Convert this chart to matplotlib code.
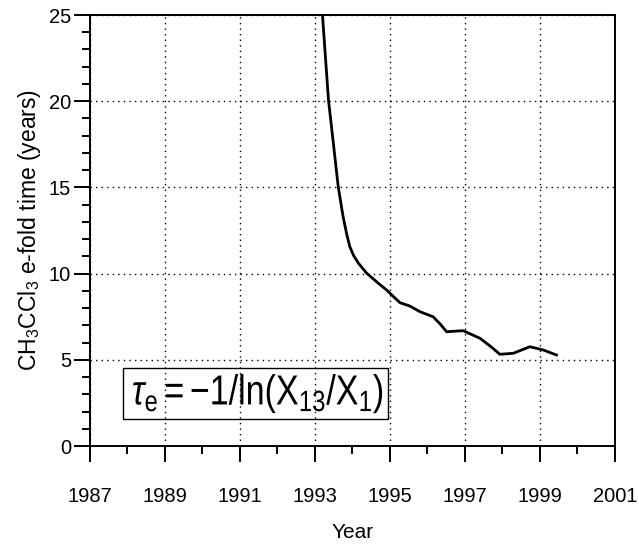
import matplotlib
matplotlib.use('Agg')
import matplotlib.pyplot as plt
from matplotlib.ticker import MultipleLocator
from matplotlib.textpath import TextPath
from matplotlib.patches import PathPatch, Rectangle
from matplotlib.font_manager import FontProperties
from matplotlib.transforms import Affine2D

plt.rcParams['font.family'] = ['Liberation Sans', 'DejaVu Sans']
plt.rcParams['mathtext.fontset'] = 'custom'
plt.rcParams['mathtext.rm'] = 'Liberation Sans'
plt.rcParams['mathtext.it'] = 'Liberation Sans:italic'

# e-fold time curve
years = [1993.20, 1993.36, 1993.49, 1993.62, 1993.75, 1993.85, 1993.93, 1994.03,
         1994.16, 1994.38, 1994.69, 1994.91, 1995.10, 1995.27, 1995.53, 1995.80,
         1996.15, 1996.35, 1996.51, 1996.95, 1997.40, 1997.70, 1997.93, 1998.29,
         1998.73, 1999.09, 1999.44]
efold = [25.0, 20.07, 17.56, 15.04, 13.30, 12.25, 11.56, 11.05,
         10.60, 10.02, 9.44, 9.05, 8.65, 8.31, 8.12, 7.79,
         7.50, 7.05, 6.63, 6.69, 6.25, 5.75, 5.32, 5.38,
         5.76, 5.57, 5.28]

xticks = list(range(1987, 2002, 2))
yticks = [0, 5, 10, 15, 20, 25]

fig = plt.figure(figsize=(6.39, 5.44), dpi=100)
ax = fig.add_axes([0.1408, 0.1801, 0.8216, 0.7923])

ax.plot(years, efold, color='black', lw=2, solid_joinstyle='round')

ax.set_xlim(1987, 2001)
ax.set_ylim(0, 25)
ax.set_xticks(xticks)
ax.set_yticks(yticks)
ax.xaxis.set_minor_locator(MultipleLocator(1))
ax.yaxis.set_minor_locator(MultipleLocator(1))
ax.tick_params(which='major', direction='out', length=11.5, width=1.4, labelsize=14.5)
ax.tick_params(which='minor', direction='out', length=6, width=1.4)
ax.tick_params(axis='x', which='major', pad=18)
ax.tick_params(axis='y', which='major', pad=2)
for s in ax.spines.values():
    s.set_linewidth(1.4)

ax.grid(True, which='major', color='black', linestyle=(0, (1, 3)), linewidth=1)

ax.set_xlabel('Year', fontsize=15, labelpad=12)
ax.set_ylabel(r'CH$_3$CCl$_3$ e-fold time (years)', fontsize=16.5, labelpad=4)

# formula box (no fill, grid shows through as in the original)
ax.add_patch(Rectangle((1987.87, 1.57), 7.08, 2.95, fill=False, ec='black', lw=1))

formula = r'$\tau_\mathregular{e}{=}{-}\mathregular{1/ln(X_{13}/X_1)}$'
tp = TextPath((0, 0), formula, size=42, prop=FontProperties(family='Liberation Sans'))
ext = tp.get_extents()
x0, y0 = ax.transData.transform((1988.15, 2.4))
sx = 249.0 / ext.width
tr = Affine2D().translate(-ext.x0, 0).scale(sx, 1.0).translate(x0, y0)
fig.patches.append(PathPatch(tr.transform_path(tp), fc='black', ec='none', transform=None, figure=fig))

fig.savefig('out.png', dpi=100)
